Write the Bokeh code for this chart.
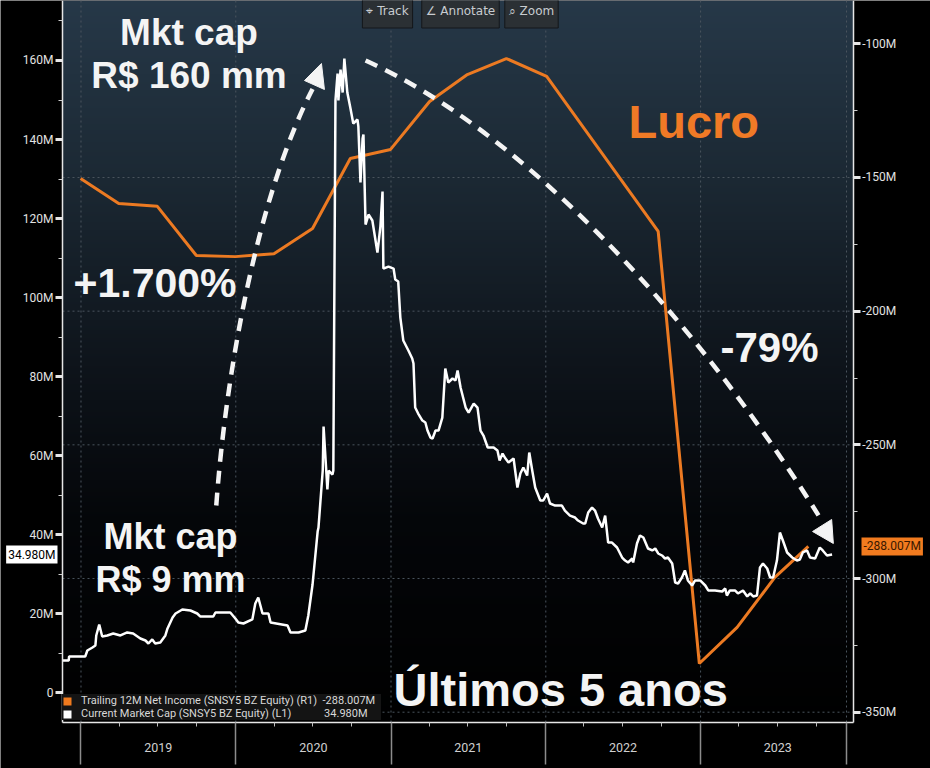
import numpy as np
import pandas as pd
from bokeh.plotting import figure
from bokeh.models import (Range1d, LinearAxis, FixedTicker, Label, Legend,
                          LegendItem, ColumnDataSource, CustomJSTickFormatter)
from bokeh.embed import file_html
from bokeh.resources import INLINE

# ---------------- data (R$ millions) ----------------
cap_dates = [
    "2018-11-19", "2018-12-03", "2018-12-04", "2019-01-11", "2019-01-16", "2019-01-28", "2019-02-04",
    "2019-02-06", "2019-02-13", "2019-02-20", "2019-03-04", "2019-03-18", "2019-04-04", "2019-04-20",
    "2019-05-04", "2019-05-21", "2019-06-02", "2019-06-09", "2019-06-18", "2019-06-25", "2019-07-07",
    "2019-07-19", "2019-07-24", "2019-08-05", "2019-08-12", "2019-08-28", "2019-09-16", "2019-10-02",
    "2019-10-09", "2019-11-09", "2019-11-14", "2019-12-19", "2019-12-31", "2020-01-07", "2020-01-19",
    "2020-02-09", "2020-02-16", "2020-02-23", "2020-03-04", "2020-03-18", "2020-03-23", "2020-05-02",
    "2020-05-09", "2020-05-28", "2020-06-13", "2020-06-20", "2020-06-30", "2020-07-12", "2020-07-14",
    "2020-07-24", "2020-07-26", "2020-08-04", "2020-08-07", "2020-08-16", "2020-08-18", "2020-08-23",
    "2020-08-28", "2020-08-30", "2020-09-04", "2020-09-09", "2020-09-13", "2020-09-20", "2020-09-27",
    "2020-10-04", "2020-10-14", "2020-10-16", "2020-10-21", "2020-10-26", "2020-10-28", "2020-11-02",
    "2020-11-09", "2020-11-18", "2020-11-30", "2020-12-07", "2020-12-12", "2020-12-14", "2020-12-26",
    "2021-01-07", "2021-01-11", "2021-01-18", "2021-01-23", "2021-01-30", "2021-02-11", "2021-02-20",
    "2021-02-23", "2021-02-27", "2021-03-06", "2021-03-16", "2021-03-23", "2021-03-28", "2021-04-04",
    "2021-04-09", "2021-04-16", "2021-04-23", "2021-05-02", "2021-05-09", "2021-05-16", "2021-05-26",
    "2021-06-02", "2021-06-07", "2021-06-14", "2021-06-26", "2021-07-03", "2021-07-15", "2021-07-24",
    "2021-07-31", "2021-08-07", "2021-08-17", "2021-08-31", "2021-09-09", "2021-09-14", "2021-09-21",
    "2021-09-28", "2021-10-05", "2021-10-17", "2021-10-26", "2021-11-02", "2021-11-09", "2021-11-18",
    "2021-11-23", "2021-11-30", "2021-12-07", "2021-12-19", "2021-12-26", "2022-01-04", "2022-01-11",
    "2022-01-23", "2022-02-08", "2022-02-15", "2022-02-27", "2022-03-11", "2022-03-18", "2022-03-30",
    "2022-04-04", "2022-04-11", "2022-04-20", "2022-04-27", "2022-05-04", "2022-05-14", "2022-05-21",
    "2022-05-28", "2022-06-06", "2022-06-18", "2022-06-30", "2022-07-07", "2022-07-14", "2022-07-24",
    "2022-07-26", "2022-08-04", "2022-08-11", "2022-08-19", "2022-08-30", "2022-09-09", "2022-09-16",
    "2022-09-23", "2022-10-02", "2022-10-09", "2022-10-16", "2022-10-26", "2022-11-02", "2022-11-09",
    "2022-11-18", "2022-11-25", "2022-12-02", "2022-12-12", "2022-12-19", "2022-12-31", "2023-01-12",
    "2023-01-19", "2023-02-04", "2023-02-21", "2023-02-28", "2023-03-04", "2023-03-11", "2023-03-23",
    "2023-03-30", "2023-04-11", "2023-04-21", "2023-04-28", "2023-05-05", "2023-05-14", "2023-05-21",
    "2023-05-28", "2023-06-07", "2023-06-14", "2023-06-21", "2023-06-30", "2023-07-07", "2023-07-14",
    "2023-07-24", "2023-08-05", "2023-08-16", "2023-08-23", "2023-08-30", "2023-09-09", "2023-09-16",
    "2023-09-28", "2023-10-09", "2023-10-16", "2023-10-26", "2023-11-07",
]
cap_values = [
    8.17, 8.17, 9.19, 9.19, 10.70, 11.46, 11.97,
    14.50, 17.28, 14.25, 14.50, 15.01, 14.50, 15.26,
    15.01, 13.74, 13.23, 12.47, 13.49, 12.47, 12.73,
    14.50, 16.27, 19.05, 20.06, 21.08, 20.82, 20.06,
    19.31, 19.31, 20.32, 20.32, 18.80, 17.79, 17.53,
    18.55, 22.60, 24.11, 20.06, 20.06, 17.79, 17.03,
    15.26, 15.26, 15.77, 19.56, 27.40, 40.81, 41.82,
    56.24, 67.37, 51.43, 56.24, 55.23, 56.24, 149.87,
    156.70, 149.87, 157.71, 151.89, 160.50, 151.89, 148.09,
    144.05, 145.06, 143.29, 129.12, 140.25, 141.26, 118.49,
    121.02, 119.50, 111.40, 117.98, 126.84, 107.35, 107.86,
    107.35, 104.57, 104.06, 94.95, 89.13, 86.60, 84.58,
    83.31, 72.18, 70.66, 68.89, 68.39, 66.36, 64.59,
    64.34, 66.36, 66.36, 69.65, 82.05, 78.51, 79.52,
    79.02, 81.55, 77.25, 72.18, 70.92, 73.19, 72.18,
    66.36, 65.10, 62.06, 62.06, 61.30, 58.77, 60.54,
    59.28, 58.27, 59.28, 51.94, 55.48, 57.00, 54.97,
    60.79, 56.24, 51.94, 48.65, 48.65, 50.42, 47.89,
    47.38, 47.38, 46.12, 44.85, 44.35, 43.59, 42.83,
    42.83, 45.61, 46.88, 46.12, 44.10, 41.82, 44.85,
    38.02, 38.02, 36.76, 34.23, 33.47, 32.97, 33.98,
    32.97, 37.78, 39.80, 39.30, 36.51, 36.01, 36.51,
    35.25, 34.74, 33.98, 34.23, 32.71, 27.91, 27.66,
    29.17, 30.95, 28.42, 27.15, 28.42, 28.42, 27.15,
    25.89, 25.89, 25.63, 26.39, 24.62, 25.89, 25.89,
    25.13, 25.89, 24.37, 25.13, 24.37, 24.62, 31.71,
    32.71, 31.45, 29.17, 29.17, 33.47, 40.55, 38.53,
    35.50, 34.23, 33.47, 33.73, 35.50, 36.01, 34.23,
    33.98, 36.76, 36.01, 34.74, 34.98,
]

ni_dates = ["2018-12-31", "2019-03-31", "2019-06-30", "2019-09-30", "2019-12-31", "2020-03-31",
            "2020-06-30", "2020-09-27", "2020-12-31", "2021-04-02", "2021-06-30", "2021-09-30",
            "2022-01-03", "2022-09-23", "2022-12-29", "2023-03-28", "2023-06-25", "2023-09-12"]
ni_values = [-150.4, -159.7, -160.8, -179.2, -179.6, -178.5,
             -169.1, -142.9, -139.5, -121.6, -111.5, -105.5,
             -112.2, -170.2, -331.8, -318.3, -299.6, -288.007]

cap_last = "34.980M"
ni_last = "-288.007M"
ni_name = "Trailing 12M Net Income (SNSY5 BZ Equity) (R1)"
cap_name = "Current Market Cap (SNSY5 BZ Equity) (L1)"

year_labels = ["2019", "2020", "2021", "2022", "2023"]
year_starts = ["2019-01-01", "2020-01-01", "2021-01-01", "2022-01-01", "2023-01-01"]
year_mids = ["2019-07-02", "2020-07-02", "2021-07-02", "2022-07-02", "2023-07-02"]
series_end_marker = "2023-12-11"
left_ticks = [0, 20, 40, 60, 80, 100, 120, 140, 160]
left_minor = [10, 30, 50, 70, 90, 110, 130, 150, 170]
right_ticks = [-350, -300, -250, -200, -150, -100]
right_minor = [-325, -275, -225, -175, -125]
right_grid = [-350, -300, -250, -200, -150]

# ---------------- styling ----------------
ORANGE = "#ec7a22"
WHITE = "#f4f4f4"
GRID = "#4a545e"
TXT = "Liberation Sans"
AXF = "Roboto"
NB = "\u00a0"


def ms(s):
    return pd.Timestamp(s).timestamp() * 1000.0


# whole canvas is the frame; the plot box sits inside it
CANVAS_X = ("2018-06-25 05:00", "2024-06-26 02:00")
BOX_X = ("2018-11-18 09:36", "2023-12-27 00:00")
LEFT_CANVAS = (-19.16, 175.18)
LEFT_BOX = (-7.52, 175.18)
RIGHT_CANVAS = (-371.06, -83.8)
RIGHT_BOX = (-353.85, -83.8)

x_range = Range1d(ms(CANVAS_X[0]), ms(CANVAS_X[1]))
y_range = Range1d(*LEFT_CANVAS)
bx0, bx1 = ms(BOX_X[0]), ms(BOX_X[1])

p = figure(width=930, height=768, x_axis_type="datetime", x_range=x_range, y_range=y_range,
           output_backend="svg", toolbar_location=None,
           min_border_left=0, min_border_right=0, min_border_top=0, min_border_bottom=0,
           background_fill_color="black", border_fill_color="black", outline_line_color=None)
p.extra_y_ranges = {"right": Range1d(*RIGHT_CANVAS)}
p.xgrid.visible = False
p.ygrid.visible = False

# gradient background of the plot box
stops = [(0.0, (38, 56, 72)), (0.25, (27, 40, 51)), (0.5, (14, 20, 27)), (0.72, (4, 6, 9)), (1.0, (0, 0, 0))]
H = 361
img = np.empty((H, 1), dtype=np.uint32)
view = img.view(dtype=np.uint8).reshape((H, 1, 4))
fs = np.array([s[0] for s in stops])
for r in range(H):
    f = 1.0 - (r + 0.5) / H
    for c in range(3):
        view[r, 0, c] = int(round(np.interp(f, fs, [s[1][c] for s in stops])))
    view[r, 0, 3] = 255
p.image_rgba(image=[img], x=bx0, y=LEFT_BOX[0], dw=bx1 - bx0, dh=LEFT_BOX[1] - LEFT_BOX[0], level="image")

# dotted grid inside the box
vx = [ms(d) for d in year_starts + [series_end_marker]]
p.segment(x0=vx, x1=vx, y0=[LEFT_BOX[0]] * len(vx), y1=[LEFT_BOX[1]] * len(vx),
          line_color=GRID, line_dash="2 3", line_width=1, level="underlay")
p.segment(x0=[bx0] * len(right_grid), x1=[bx1] * len(right_grid), y0=right_grid, y1=right_grid,
          y_range_name="right", line_color=GRID, line_dash="2 3", line_width=1, level="underlay")

# ---------------- axes ----------------
xa = p.xaxis[0]
xa.fixed_location = LEFT_BOX[0]
xa.bounds = (bx0, bx1)
xa.ticker = FixedTicker(ticks=[ms(d) for d in year_mids],
                        minor_ticks=[ms(d) for d in pd.date_range("2019-01-01", "2023-10-01", freq="QS")])
xa.major_label_overrides = {ms(d): lab for d, lab in zip(year_mids, year_labels)}
xa.major_tick_out = 0
xa.major_tick_in = 0
xa.major_tick_line_color = None
xa.minor_tick_out = 4
xa.minor_tick_in = 0
xa.minor_tick_line_color = "#bdbdbd"
xa.axis_line_color = "#e6e6e6"
xa.axis_line_width = 1.5
xa.major_label_standoff = 16
xa.major_label_text_font = AXF
xa.major_label_text_font_size = "12.5px"
xa.major_label_text_color = "#d0d0d0"

xb = LinearAxis(fixed_location=LEFT_BOX[0], bounds=(bx0, bx1),
                ticker=FixedTicker(ticks=vx, minor_ticks=[]),
                formatter=CustomJSTickFormatter(code="return ''"))
xb.axis_line_color = None
xb.major_tick_out = 42
xb.major_tick_in = 0
xb.major_tick_line_color = "#8c8c8c"
xb.major_tick_line_width = 1.5
xb.major_label_text_font_size = "0px"
xb.major_label_standoff = 0
p.add_layout(xb, "below")

ya = p.yaxis[0]
ya.fixed_location = bx0
ya.bounds = LEFT_BOX
ya.ticker = FixedTicker(ticks=left_ticks, minor_ticks=left_minor)
ya.formatter = CustomJSTickFormatter(code="return tick == 0 ? '0' : tick + 'M'")

ra = LinearAxis(y_range_name="right", fixed_location=bx1, bounds=RIGHT_BOX,
                ticker=FixedTicker(ticks=right_ticks, minor_ticks=right_minor),
                formatter=CustomJSTickFormatter(code="return tick + 'M'"))
p.add_layout(ra, "right")

for ax in (ya, ra):
    ax.axis_line_color = "#e6e6e6"
    ax.axis_line_width = 1.5
    ax.major_tick_out = 7
    ax.major_tick_in = 0
    ax.major_tick_line_width = 3
    ax.major_tick_line_color = "#e6e6e6"
    ax.minor_tick_out = 4
    ax.minor_tick_in = 0
    ax.minor_tick_line_color = "#cfcfcf"
    ax.major_label_text_color = "#e2e2e2"
    ax.major_label_text_font = AXF
    ax.major_label_text_font_size = "12px"
    ax.major_label_standoff = 2

# ---------------- series ----------------
ni_src = ColumnDataSource(dict(x=pd.to_datetime(ni_dates), y=ni_values))
cap_src = ColumnDataSource(dict(x=pd.to_datetime(cap_dates), y=cap_values))
p.line("x", "y", source=ni_src, color=ORANGE, line_width=3, y_range_name="right")
p.line("x", "y", source=cap_src, color="white", line_width=2.5)

# ---------------- dashed arrows (annotation) ----------------
arr = ColumnDataSource(dict(
    x0=[ms("2019-11-16"), ms("2020-11-02")], y0=[47.4, 160.0],
    cx0=[ms("2019-12-07"), ms("2021-11-02")], cy0=[79.0, 142.3],
    cx1=[ms("2020-02-16"), ms("2022-12-08")], cy1=[124.6, 96.7],
    x1=[ms("2020-06-30"), ms("2023-10-06")], y1=[152.8, 44.9],
))
p.bezier(x0="x0", y0="y0", x1="x1", y1="y1", cx0="cx0", cy0="cy0", cx1="cx1", cy1="cy1",
         source=arr, line_color=WHITE, line_width=4.5, line_dash="13 9")
heads = ColumnDataSource(dict(
    xs=[[ms("2020-07-21"), ms("2020-06-11"), ms("2020-07-28")],
        [ms("2023-11-10"), ms("2023-09-22"), ms("2023-11-06")]],
    ys=[[159.24, 154.93, 152.66], [37.78, 40.81, 43.85]],
))
p.patches("xs", "ys", source=heads, fill_color=WHITE, line_color=WHITE, line_width=1)

# ---------------- legend (square swatches: zero-area quads at each series' last point) ----------------
t_ni = pd.to_datetime(ni_dates[-1:])
t_cap = pd.to_datetime(cap_dates[-1:])
sw_ni = p.quad(left=t_ni, right=t_ni, top=ni_values[-1:], bottom=ni_values[-1:],
               y_range_name="right", fill_color="#f07a1e", line_color=None)
sw_cap = p.quad(left=t_cap, right=t_cap, top=cap_values[-1:], bottom=cap_values[-1:],
                fill_color="white", line_color=None)
legend = Legend(items=[LegendItem(label=ni_name + NB * 2 + ni_last, renderers=[sw_ni]),
                       LegendItem(label=cap_name + NB * 12 + cap_last, renderers=[sw_cap])],
                location=(62, 48), margin=0, padding=6, spacing=0,
                glyph_width=10, glyph_height=10, label_standoff=9, label_width=300,
                label_height=13, label_text_font=AXF, label_text_font_size="11px",
                label_text_color="#d8d8d8", background_fill_color="#141414",
                background_fill_alpha=1.0, border_line_color=None)
p.add_layout(legend)

# ---------------- last-value tags ----------------
p.add_layout(Label(x=57, y=cap_values[-1], x_units="screen", text=cap_last, text_align="right",
                   text_baseline="middle", text_font=AXF, text_font_size="12px",
                   text_color="black", background_fill_color="white", padding=2))
p.add_layout(Label(x=861, y=ni_values[-1], x_units="screen", y_range_name="right", text=ni_last,
                   text_align="left", text_baseline="middle", text_font=AXF,
                   text_font_size="12px", text_color="#3a1800",
                   background_fill_color="#f27b1f", padding=2))

# ---------------- toolbar look-alike ----------------
for txt, cx in [("\u2316 Track", 387), ("\u2220 Annotate", 460), ("\u2315 Zoom", 531)]:
    p.add_layout(Label(x=cx, y=757.5, x_units="screen", y_units="screen", text=txt,
                       text_align="center", text_baseline="middle", text_font="DejaVu Sans",
                       text_font_size="12px", text_color="#c8ccd0",
                       background_fill_color="#2b3034", border_line_color="#14171a",
                       padding=(4, 10)))

# ---------------- annotation texts ----------------
def big(text, x, y, size, align="left", color=WHITE):
    p.add_layout(Label(x=x, y=y, x_units="screen", y_units="screen", text=text,
                       text_align=align, text_baseline="alphabetic", text_font=TXT,
                       text_font_style="bold", text_font_size=size, text_color=color))

big("Mkt cap", 188.5, 736.4, "37px", "center")
big("R$ 160 mm", 188.5, 693.1, "37px", "center")
big("+1.700%", 73, 485.6, "41px")
big("Mkt cap", 170, 231.7, "36px", "center")
big("R$ 9 mm", 170, 188.7, "36px", "center")
big("Lucro", 628, 646.9, "47px", color="#f07a26")
big("-79%", 720, 421, "42px")
big("Últimos 5 anos", 393, 78.9, "47px")

open("out.html", "w").write(file_html(p, INLINE))
